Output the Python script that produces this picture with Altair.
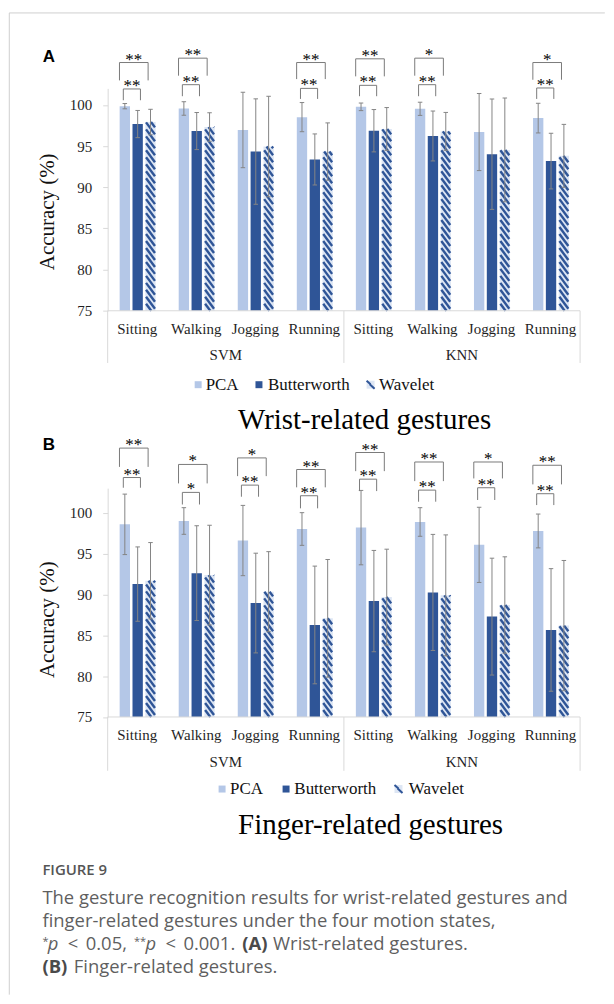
import altair as alt
import pandas as pd
import numpy as np

# ---------------- data ----------------
motions = ["Sitting", "Walking", "Jogging", "Running", "Sitting", "Walking", "Jogging", "Running"]
classifiers = ["SVM", "KNN"]
methods = ["PCA", "Butterworth", "Wavelet"]

# Panel A: wrist-related gestures
wrist_pca = [99.84, 99.56, 96.95, 98.51, 99.76, 99.52, 96.70, 98.39]
wrist_pca_err = [0.32, 0.82, 4.58, 1.77, 0.46, 0.80, 4.68, 1.80]
wrist_but = [97.67, 96.82, 94.33, 93.37, 96.86, 96.22, 94.01, 93.17]
wrist_but_err = [1.65, 2.25, 6.40, 3.10, 2.57, 3.03, 6.70, 3.38]
wrist_wav = [97.91, 97.31, 94.94, 94.33, 97.07, 96.78, 94.53, 93.81]
wrist_wav_err = [1.55, 1.73, 6.10, 3.48, 2.60, 2.30, 6.30, 3.82]
wrist_sig_outer = ["**", "**", "", "**", "**", "*", "", "*"]
wrist_sig_inner = ["**", "**", "", "**", "**", "**", "", "**"]
wrist_outer_top = [105.14, 105.67, None, 105.14, 105.59, 105.67, None, 105.14]
wrist_outer_leg = [102.97, 103.54, None, 103.13, 103.46, 103.54, None, 103.05]
wrist_inner_top = [101.93, 102.45, None, 102.00, 102.37, 102.45, None, 102.05]
wrist_inner_leg = [100.56, 101.05, None, 100.72, 101.05, 101.05, None, 100.72]

# Panel B: finger-related gestures
finger_pca = [98.57, 98.98, 96.59, 98.00, 98.17, 98.86, 96.06, 97.76]
finger_pca_err = [3.70, 1.63, 4.30, 2.00, 4.55, 1.75, 4.60, 2.07]
finger_but = [91.26, 92.60, 88.94, 86.26, 89.18, 90.24, 87.28, 85.65]
finger_but_err = [4.55, 5.80, 6.10, 7.20, 6.20, 7.10, 7.15, 7.50]
finger_wav = [91.67, 92.36, 90.33, 87.07, 89.67, 89.88, 88.70, 86.18]
finger_wav_err = [4.67, 6.10, 4.90, 7.20, 5.86, 7.40, 5.90, 7.97]
finger_sig_outer = ["**", "*", "*", "**", "**", "**", "*", "**"]
finger_sig_inner = ["**", "*", "**", "**", "**", "**", "**", "**"]
finger_outer_top = [107.90, 105.90, 106.70, 105.28, 107.36, 106.20, 106.20, 105.80]
finger_outer_leg = [105.60, 103.58, 104.47, 103.10, 105.08, 103.86, 104.19, 103.46]
finger_inner_top = [104.30, 102.48, 103.37, 102.07, 104.10, 102.76, 103.05, 102.32]
finger_inner_leg = [103.05, 101.00, 101.95, 100.53, 102.64, 101.34, 101.55, 100.93]

caption_l1 = "The gesture recognition results for wrist-related gestures and"
caption_l2 = "finger-related gestures under the four motion states,"

# ---------------- styling ----------------
C_PCA = "#b4c7e7"
C_BUT = "#2f5597"
C_WAV_BG = "#dde6f4"
C_GRAY = "#d9d9d9"
SERIF = "Liberation Serif"
W = 474
ONE = pd.DataFrame({"a": [0]})


def txt(label, x, y, **kw):
    return alt.Chart(ONE).mark_text(text=label, **kw).encode(x=alt.value(x), y=alt.value(y))


def panel(pca, pe, but, be, wav, we, so, si, ot, ol, it, il, ymax, pxu, height, pos, letter, title):
    xs = alt.Scale(domain=[0, 8], nice=False, zero=False)
    ys = alt.Scale(domain=[75, ymax], nice=False, zero=False)
    yax = alt.Axis(values=[75, 80, 85, 90, 95, 100], title=None, grid=False,
                   domainColor=C_GRAY, tickColor=C_GRAY, tickSize=5, labelPadding=11,
                   labelFont=SERIF, labelFontSize=15, labelColor="#1f1f1f")

    def X(f):
        return alt.X(f, type="quantitative", scale=xs, axis=None)

    def Y(f):
        return alt.Y(f, type="quantitative", scale=ys, axis=yax)

    bars = []
    for i in range(8):
        for k, (m, vals, errs) in enumerate(zip(methods, [pca, but, wav], [pe, be, we])):
            c = i + 0.508 + (k - 1) * 0.2175
            bars.append(dict(method=m, c=c, x0=c - 0.0875, x1=c + 0.0875, v=vals[i], base=75.0,
                             lo=vals[i] - errs[i], hi=vals[i] + errs[i]))
    bdf = pd.DataFrame(bars)
    color = alt.Color("method:N", scale=alt.Scale(domain=methods, range=[C_PCA, C_BUT, C_WAV_BG]), legend=None)

    layers = []
    layers.append(alt.Chart(bdf).mark_rect().encode(x=X("x0"), x2="x1", y=Y("v"), y2="base", color=color))

    # diagonal hatch of the wavelet bars
    period, drop = 7.0 / pxu, 12.0 / pxu
    srows = []
    for r in bars:
        if r["method"] != "Wavelet":
            continue
        xl, xr, v = r["x0"] + 0.012, r["x1"] - 0.012, r["v"]
        k = 0
        while True:
            s = 75 + k * period
            if s - drop >= v:
                break
            tlo = max(0.0, (s - v) / drop)
            thi = min(1.0, (s - 75) / drop)
            if thi > tlo:
                srows.append(dict(sx=xl + tlo * (xr - xl), sy=s - drop * tlo,
                                  sx2=xl + thi * (xr - xl), sy2=s - drop * thi))
            k += 1
    sdf = pd.DataFrame(srows)
    layers.append(alt.Chart(sdf).mark_rule(color=C_BUT, strokeWidth=2.4).encode(
        x=X("sx"), x2="sx2", y=Y("sy"), y2="sy2"))

    # error bars
    layers.append(alt.Chart(bdf).mark_rule(color="#858585", strokeWidth=1).encode(x=X("c"), y=Y("lo"), y2="hi"))
    caps = []
    for r in bars:
        for yv in (r["lo"], r["hi"]):
            caps.append(dict(cx=r["c"] - 0.038, cx2=r["c"] + 0.038, cy=yv))
    layers.append(alt.Chart(pd.DataFrame(caps)).mark_rule(color="#858585", strokeWidth=1).encode(
        x=X("cx"), x2="cx2", y=Y("cy")))

    # significance brackets
    brows, srows2 = [], []
    bid = 0
    for i in range(8):
        for (top, leg, star, l, r) in ((ot[i], ol[i], so[i], 0.2, 0.685), (it[i], il[i], si[i], 0.265, 0.555)):
            if top is None or not star:
                continue
            pts = [(i + l, leg), (i + l, top), (i + r, top), (i + r, leg)]
            for o, (px, py) in enumerate(pts):
                brows.append(dict(bid=bid, o=o, bx=px, by=py))
            srows2.append(dict(tx=i + (l + r) / 2, ty=top, star=star))
            bid += 1
    layers.append(alt.Chart(pd.DataFrame(brows)).mark_line(color="#7a7a7a", strokeWidth=1).encode(
        x=X("bx"), y=Y("by"), detail="bid:N", order="o:Q"))
    layers.append(alt.Chart(pd.DataFrame(srows2)).mark_text(
        font=SERIF, fontSize=17, baseline="alphabetic", dy=2, color="#000000", fill="#000000").encode(
        x=X("tx"), y=Y("ty"), text="star:N"))

    # x axis line and category dividers
    layers.append(alt.Chart(pd.DataFrame({"a": [0.0], "b": [8.0], "yy": [75.0]})).mark_rule(
        color=C_GRAY, strokeWidth=1).encode(x=X("a"), x2="b", y=Y("yy")))
    layers.append(alt.Chart(pd.DataFrame({"d": [0.0, 4.0, 8.0]})).mark_rule(color=C_GRAY, strokeWidth=1).encode(
        x=X("d"), y=alt.value(height), y2=alt.value(pos["div"])))
    cdf = pd.DataFrame({"c": [i + 0.5 for i in range(8)], "m": motions})
    layers.append(alt.Chart(cdf).mark_text(font=SERIF, fontSize=15, baseline="middle", color="#1f1f1f").encode(
        x=X("c"), y=alt.value(pos["cat"]), text="m:N"))
    kdf = pd.DataFrame({"c": [2.0, 6.0], "k": classifiers})
    layers.append(alt.Chart(kdf).mark_text(font=SERIF, fontSize=15, baseline="middle", color="#1f1f1f").encode(
        x=X("c"), y=alt.value(pos["cls"]), text="k:N"))

    # legend
    ly = pos["leg_y"]
    sq, tx = pos["leg_sq"], pos["leg_tx"]
    for k, m in enumerate(methods[:2]):
        layers.append(alt.Chart(ONE).mark_rect(color=[C_PCA, C_BUT][k]).encode(
            x=alt.value(sq[k]), x2=alt.value(sq[k] + 7), y=alt.value(ly - 3.5), y2=alt.value(ly + 3.5)))
    layers.append(alt.Chart(ONE).mark_rect(color=C_WAV_BG).encode(
        x=alt.value(sq[2]), x2=alt.value(sq[2] + 8), y=alt.value(ly - 4), y2=alt.value(ly + 4)))
    for a, b in ((0, 3.5), (3.5, 8)):
        layers.append(alt.Chart(ONE).mark_rule(color=C_BUT, strokeWidth=2).encode(
            x=alt.value(sq[2] + a * 0.9), x2=alt.value(sq[2] + b * 0.9 + 0.8),
            y=alt.value(ly - 4 + a), y2=alt.value(ly - 4 + b)))
    for k, m in enumerate(methods):
        layers.append(txt(m, tx[k], ly, font=SERIF, fontSize=17, align="left", baseline="middle", color="#111111"))

    # titles
    layers.append(txt(title, pos["title_x"], pos["title_y"], font=SERIF, fontSize=29, align="center",
                      baseline="alphabetic", color="#000000"))
    layers.append(txt("Accuracy (%)", -60.2, pos["ytitle_y"], font=SERIF, fontSize=21, angle=270,
                      align="center", baseline="middle", color="#111111"))
    layers.append(txt(letter, -65.2, pos["letter_y"], font="Liberation Sans", fontSize=17, fontWeight="bold",
                      align="left", baseline="alphabetic", color="#000000"))
    return layers


posA = dict(div=275.5, cat=241.8, cls=267.1, leg_y=297.3, leg_sq=[87.3, 148.3, 259.8],
            leg_tx=[98.3, 160.8, 272.3], title_x=257.8, title_y=341.8, ytitle_y=123.8, letter_y=-26.2)
posB = dict(div=283.6, cat=247.6, cls=274.3, leg_y=301.9, leg_sq=[111.3, 175.5, 287.8],
            leg_tx=[122.8, 187.3, 302.2], title_x=263.8, title_y=346.6, ytitle_y=132.0, letter_y=-38.4)

hA = 27 * 8.264
hB = 28 * 8.2

layersA = panel(wrist_pca, wrist_pca_err, wrist_but, wrist_but_err, wrist_wav, wrist_wav_err,
                wrist_sig_outer, wrist_sig_inner, wrist_outer_top, wrist_outer_leg, wrist_inner_top,
                wrist_inner_leg, 102, 8.264, hA, posA, "A", "Wrist-related gestures")
# page frame
layersA.append(alt.Chart(ONE).mark_rule(color="#cfcfcf", strokeWidth=1).encode(
    x=alt.value(-98.7), y=alt.value(-75.7), y2=alt.value(909.3)))
layersA.append(alt.Chart(ONE).mark_rule(color="#cfcfcf", strokeWidth=1).encode(
    x=alt.value(-98.7), x2=alt.value(498.8), y=alt.value(-75.7)))

layersB = panel(finger_pca, finger_pca_err, finger_but, finger_but_err, finger_wav, finger_wav_err,
                finger_sig_outer, finger_sig_inner, finger_outer_top, finger_outer_leg, finger_inner_top,
                finger_inner_leg, 103, 8.2, hB, posB, "B", "Finger-related gestures")

# caption
CAP = "Open Sans"
capc = "#5f5f5f"
boldc = "#4a4a4a"
FS = 18.5
layersB.append(txt("FIGURE 9", -65.5, 388.6, font=CAP, fontSize=15, fontWeight=600, align="left",
                   baseline="alphabetic", color="#555555"))
layersB.append(txt(caption_l1, -65.5, 417.6, font=CAP, fontSize=FS, align="left", baseline="alphabetic", color=capc))
layersB.append(txt(caption_l2, -65.5, 440.6, font=CAP, fontSize=FS, align="left", baseline="alphabetic", color=capc))
frags = [("*", -65.5, "normal", "normal", 11, -5), ("p", -60.0, "italic", "normal", FS, 0),
         ("<", -40.0, "normal", "normal", FS, 0), ("0.05,", -22.0, "normal", "normal", FS, 0),
         ("**", 26.5, "normal", "normal", 11, -5), ("p", 38.0, "italic", "normal", FS, 0),
         ("<", 58.0, "normal", "normal", FS, 0), ("0.001.", 76.0, "normal", "normal", FS, 0),
         ("(A)", 135.0, "normal", "bold", FS, 0), ("Wrist-related gestures.", 166.0, "normal", "normal", FS, 0)]
for t, x, st, wt, fs, dy in frags:
    layersB.append(txt(t, x, 463.6, font=CAP, fontSize=fs, fontStyle=st, fontWeight=wt, dy=dy, align="left",
                       baseline="alphabetic", color=boldc if wt == "bold" else capc))
layersB.append(txt("(B)", -65.5, 486.6, font=CAP, fontSize=FS, fontWeight="bold", align="left",
                   baseline="alphabetic", color=boldc))
layersB.append(txt("Finger-related gestures.", -34.0, 486.6, font=CAP, fontSize=FS, align="left",
                   baseline="alphabetic", color=capc))

chartA = alt.layer(*layersA).properties(width=W, height=hA)
chartB = alt.layer(*layersB).properties(width=W, height=hB)

chart = alt.vconcat(chartA, chartB, spacing=177.1, bounds="flush").properties(
    padding={"left": 0, "top": 2, "right": 0, "bottom": 0}
).configure_view(stroke=None)

chart.save("out.html", embed_options={"renderer": "svg", "actions": False})
